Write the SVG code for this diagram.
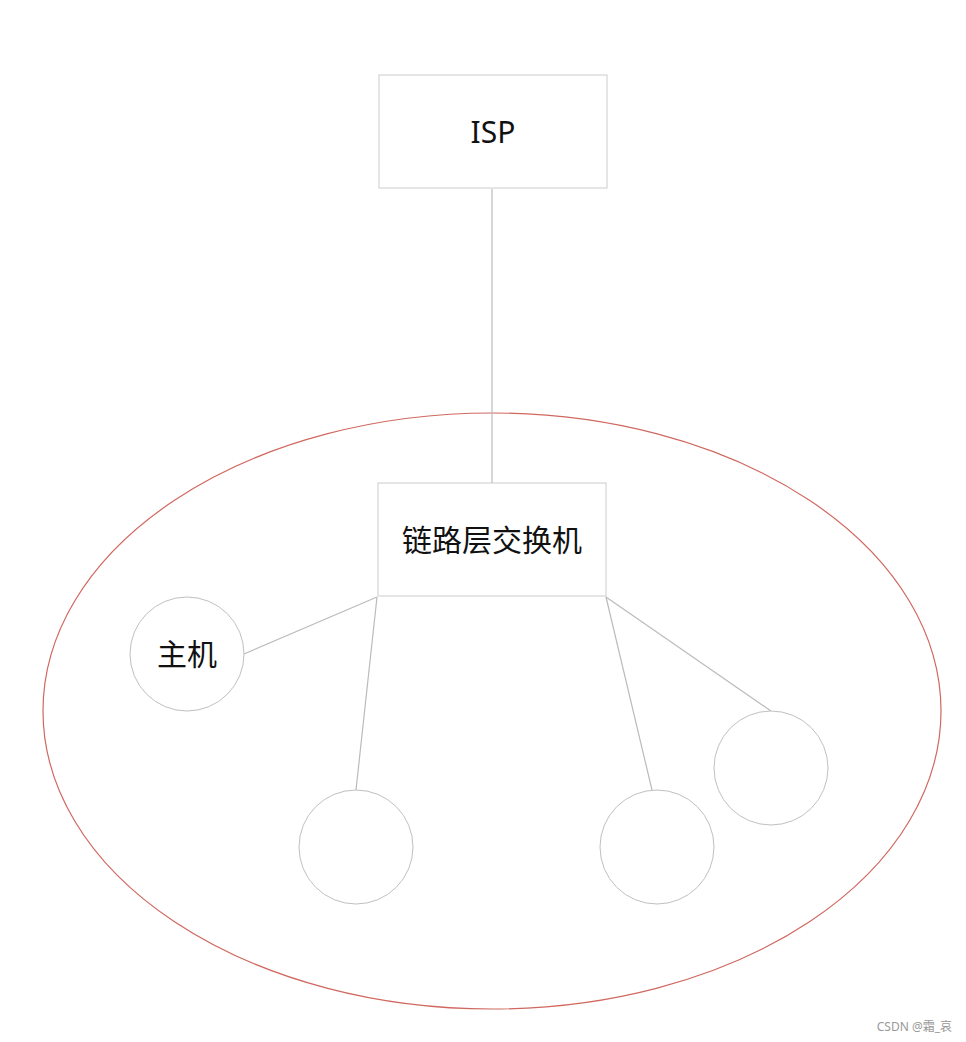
<svg xmlns="http://www.w3.org/2000/svg" width="966" height="1042" viewBox="0 0 966 1042">
<style>
.box{fill:#fff;stroke:#cccccc;stroke-width:1}
.c{fill:#fff;stroke:#c0c0c0;stroke-width:1}
.l{stroke:#bbbbbb;stroke-width:1.2;fill:none}
.t{font-family:"Noto Sans","Noto Sans CJK SC",sans-serif;font-size:30px;fill:#111;text-anchor:middle}
</style>
<rect width="966" height="1042" fill="#fff"/>
<ellipse cx="492" cy="711" rx="449" ry="298" fill="none" stroke="#d06860" stroke-width="1.2"/>
<g id="connectors">
<line class="l" x1="492" y1="189" x2="492" y2="483"/>
<line class="l" x1="377" y1="597" x2="244" y2="654"/>
<line class="l" x1="377" y1="597" x2="356" y2="790"/>
<line class="l" x1="606" y1="597" x2="652" y2="790"/>
<line class="l" x1="606" y1="597" x2="771" y2="711"/>
</g>
<g id="isp"><rect class="box" x="379" y="75" width="228" height="113"/><text class="t" x="493" y="143">ISP</text></g>
<g id="switch"><rect class="box" x="378" y="483" width="228" height="113"/><text class="t" x="492" y="551">链路层交换机</text></g>
<g id="host1"><circle class="c" cx="187" cy="654" r="57"/><text class="t" x="187" y="665">主机</text></g>
<g id="host2"><circle class="c" cx="356" cy="847" r="57"/></g>
<g id="host3"><circle class="c" cx="657" cy="847" r="57"/></g>
<g id="host4"><circle class="c" cx="771" cy="768" r="57"/></g>
<text x="952" y="1031" font-family="'Noto Sans','Noto Sans CJK SC',sans-serif" font-size="12" fill="#999" text-anchor="end">CSDN @霜_哀</text>
</svg>
